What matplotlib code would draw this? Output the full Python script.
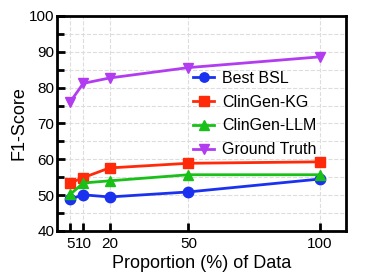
import matplotlib
matplotlib.use("Agg")
import matplotlib.pyplot as plt
from matplotlib.ticker import MultipleLocator

plt.rcParams['font.family'] = ['Liberation Sans', 'DejaVu Sans']

proportions = [5, 10, 20, 50, 100]
best_bsl = [48.9, 50.1, 49.5, 50.9, 54.5]
clingen_kg = [53.4, 54.9, 57.6, 58.9, 59.3]
clingen_llm = [50.2, 53.4, 54.0, 55.7, 55.7]
ground_truth = [76.0, 81.2, 82.7, 85.6, 88.6]

series = [
    ("Best BSL", best_bsl, "#1a32f0", "o"),
    ("ClinGen-KG", clingen_kg, "#ff2a0a", "s"),
    ("ClinGen-LLM", clingen_llm, "#18c018", "^"),
    ("Ground Truth", ground_truth, "#b23cf0", "v"),
]

fig = plt.figure(figsize=(3.81, 2.78), dpi=100)
ax = fig.add_axes([57/381, 1-231/278, (346-57)/381, (231-16)/278])

for name, vals, color, marker in series:
    ax.plot(proportions, vals, color=color, marker=marker, markersize=7.5,
            linewidth=2, label=name)

ax.set_xlim(0, 110)
ax.set_ylim(40, 100)
ax.set_xticks(proportions)
ax.set_xticklabels(["5", "10", "20", "50", "100"])
ax.yaxis.set_major_locator(MultipleLocator(10))
ax.yaxis.set_minor_locator(MultipleLocator(5))

ax.grid(True, which='both', axis='y', color='#dddddd', linestyle='--', linewidth=0.8)
ax.grid(True, which='major', axis='x', color='#dddddd', linestyle='--', linewidth=0.8)
ax.set_axisbelow(True)

for s in ax.spines.values():
    s.set_linewidth(2)
ax.tick_params(axis='both', which='major', direction='in', length=6, width=2,
               labelsize=11, pad=2)
ax.tick_params(axis='y', which='minor', direction='in', length=5, width=2)
ax.tick_params(axis='x', labelsize=11, pad=4)

ax.set_xlabel("Proportion (%) of Data", fontsize=13, labelpad=3)
ax.set_ylabel("F1-Score", fontsize=13, labelpad=1)

ax.legend(loc='upper left', bbox_to_anchor=(0.45, 0.775), frameon=False,
          fontsize=11.5, handlelength=1.3, handletextpad=0.5, labelspacing=0.55,
          borderaxespad=0, markerscale=0.9)

fig.savefig("out.png", dpi=100)
